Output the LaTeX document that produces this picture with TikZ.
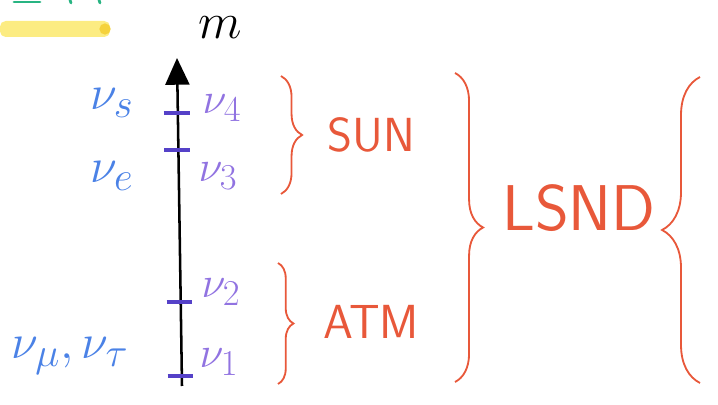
\documentclass[tikz,border=0pt]{standalone}
\usepackage{amsmath, amssymb}
\usepackage{tikz}
\usetikzlibrary{arrows.meta, decorations.pathreplacing}

\definecolor{penred}{RGB}{232,88,58}
\definecolor{penblue}{RGB}{75,130,230}
\definecolor{penviolet}{RGB}{145,115,225}
\definecolor{tickviolet}{RGB}{85,65,200}
\definecolor{hlyellow}{RGB}{252,236,130}
\definecolor{hldot}{RGB}{245,210,60}
\definecolor{pengreen}{RGB}{40,180,130}

\tikzset{
  flavour/.style={text=penblue, inner sep=0pt, font=\Huge, scale=1.4},
  masslabel/.style={text=penviolet, inner sep=0pt, font=\Huge, scale=1.25},
  bracetext/.style={text=penred, inner sep=0pt, font=\sffamily\fontsize{34}{38}\selectfont},
  tickmark/.style={tickviolet, line width=2.2pt},
  penbrace/.style={penred, line width=1.3pt, decorate, decoration={brace, amplitude=#1}},
  penbrace/.default=10pt
}

\begin{document}
\begin{tikzpicture}[x=0.025cm, y=-0.025cm]
    % Fix the page to the sheet size
    \useasboundingbox (0,0) rectangle (718,405);

    % Highlighter bar and the cut-off heading above it
    \fill[hlyellow, rounded corners=4pt] (0,21) rectangle (110,37);
    \fill[hldot] (105,29) circle (4pt);
    \draw[pengreen, line width=2pt, line cap=round] (14,2) -- (40,2);
    \draw[pengreen, line width=2pt, line cap=round] (70,0) -- (71,3);
    \draw[pengreen, line width=2pt, line cap=round] (99,0) -- (100,3);

    % Draw mass axis
    \coordinate (base) at (182,386);
    \coordinate (top) at (177,58);
    \draw[line width=1.8pt, -{Triangle[length=19pt, width=17pt]}] (base) -- (top);
    \node[font=\Huge, scale=1.45] (m) at (220,28) {$m$};

    % Mark mass levels on the axis
    \coordinate (t4) at (177.8,113);
    \coordinate (t3) at (178.4,150);
    \coordinate (t2) at (180.7,302);
    \coordinate (t1) at (181.8,376);
    \draw[tickmark] ([xshift=-10pt]t4) -- ([xshift=8.5pt]t4);
    \draw[tickmark] ([xshift=-10pt]t3) -- ([xshift=8.5pt]t3);
    \draw[tickmark] ([xshift=-10pt]t2) -- ([xshift=8pt]t2);
    \draw[tickmark] ([xshift=-10pt]t1) -- ([xshift=8pt]t1);

    % Mass eigenstates (right of the axis)
    \node[masslabel] (nu4) at (222,108) {$\nu_4$};
    \node[masslabel] (nu3) at (218,176) {$\nu_3$};
    \node[masslabel] (nu2) at (221,292) {$\nu_2$};
    \node[masslabel] (nu1) at (219,362) {$\nu_1$};

    % Flavour states (left of the axis)
    \node[flavour] (nus) at (112,103) {$\nu_s$};
    \node[flavour] (nue) at (112,176) {$\nu_e$};
    \node[flavour] (numutau) at (70,356) {$\nu_\mu,\nu_\tau$};

    % Splitting braces
    \coordinate (sunA) at (281,76);
    \coordinate (sunB) at (281,194);
    \draw[penbrace=15pt] (sunA) -- (sunB);
    \node[bracetext] (sun) at (371,135) {SUN};

    \coordinate (atmA) at (278,263);
    \coordinate (atmB) at (278,384);
    \draw[penbrace=11pt] (atmA) -- (atmB);
    \node[bracetext] (atm) at (371,322) {ATM};

    \coordinate (lsndA) at (455,73);
    \coordinate (lsndB) at (455,382);
    \draw[penbrace=20pt] (lsndA) -- (lsndB);
    \node[bracetext, font=\sffamily\fontsize{46}{50}\selectfont] (lsnd) at (579,208) {LSND};

    \coordinate (openA) at (700,383);
    \coordinate (openB) at (700,77);
    \draw[penbrace=27pt] (openA) -- (openB);
\end{tikzpicture}
\end{document}
